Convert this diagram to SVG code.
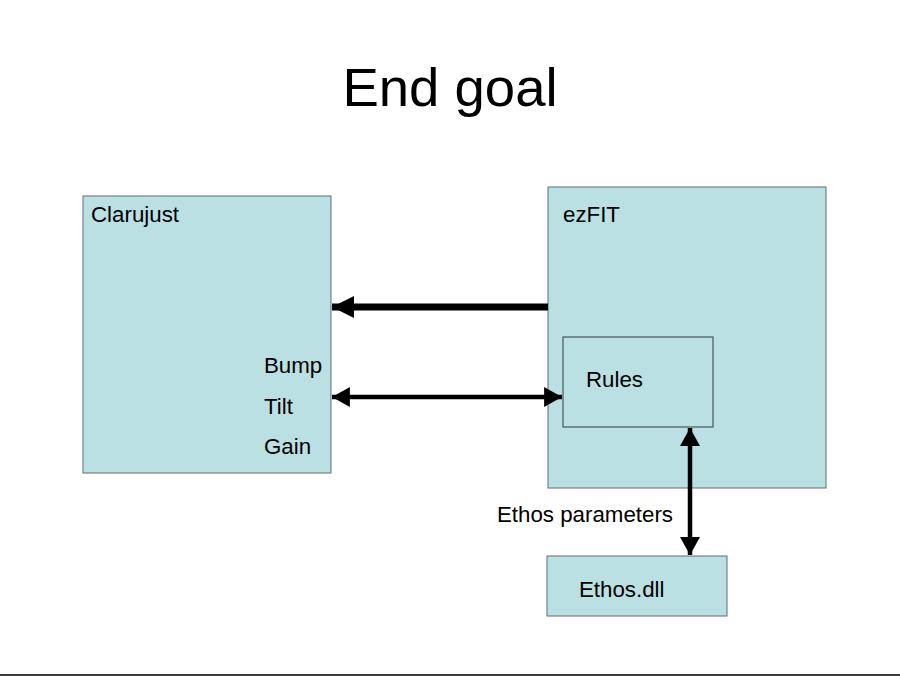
<svg xmlns="http://www.w3.org/2000/svg" width="900" height="676" viewBox="0 0 900 676">
<style>
.box{fill:#bae0e4;stroke:#5f6f70;stroke-width:1}
.inner{fill:#bae0e4;stroke:#2f3a3b;stroke-width:1}
text{font-family:"Liberation Sans",Arial,sans-serif;fill:#000}
.lbl{font-size:22.3px}
.title{font-size:54.5px}
.conn{stroke:#000;fill:none}
</style>
<defs>
<marker id="bigHead" markerUnits="userSpaceOnUse" markerWidth="24" markerHeight="24" refX="22" refY="11" orient="auto-start-reverse" viewBox="0 0 24 22">
<path d="M0,0 L22,11 L0,22 Z" fill="#000"/>
</marker>
<marker id="head" markerUnits="userSpaceOnUse" markerWidth="20" markerHeight="20" refX="17" refY="9.5" orient="auto-start-reverse" viewBox="0 0 19 19">
<path d="M0,0 L17,9.5 L0,19 Z" fill="#000"/>
</marker>
</defs>
<rect width="900" height="676" fill="#fff"/>
<text class="title" x="450" y="106" text-anchor="middle">End goal</text>
<g id="clarujust">
<rect class="box" x="83" y="196" width="248" height="277"/>
<text class="lbl" x="91" y="222">Clarujust</text>
<text class="lbl" x="264" y="373">Bump</text>
<text class="lbl" x="264" y="414">Tilt</text>
<text class="lbl" x="264" y="454">Gain</text>
</g>
<g id="ezfit">
<rect class="box" x="548" y="187" width="278" height="301"/>
<text class="lbl" x="563" y="222">ezFIT</text>
</g>
<g id="rules">
<rect class="inner" x="563" y="337" width="150" height="90"/>
<text class="lbl" x="586" y="387">Rules</text>
</g>
<g id="ethosdll">
<rect class="box" x="547" y="556" width="180" height="60"/>
<text class="lbl" x="579" y="597">Ethos.dll</text>
</g>
<g id="connectors">
<line class="conn" x1="548" y1="307" x2="332" y2="307" stroke-width="7" marker-end="url(#bigHead)"/>
<line class="conn" x1="332" y1="397" x2="562" y2="397" stroke-width="4.5" marker-start="url(#head)" marker-end="url(#head)"/>
<line class="conn" x1="690" y1="428" x2="690" y2="555" stroke-width="4.5" marker-start="url(#head)" marker-end="url(#head)"/>
<text class="lbl" x="497" y="522">Ethos parameters</text>
</g>
<rect x="0" y="674" width="900" height="2" fill="#3a3a3a"/>
</svg>
